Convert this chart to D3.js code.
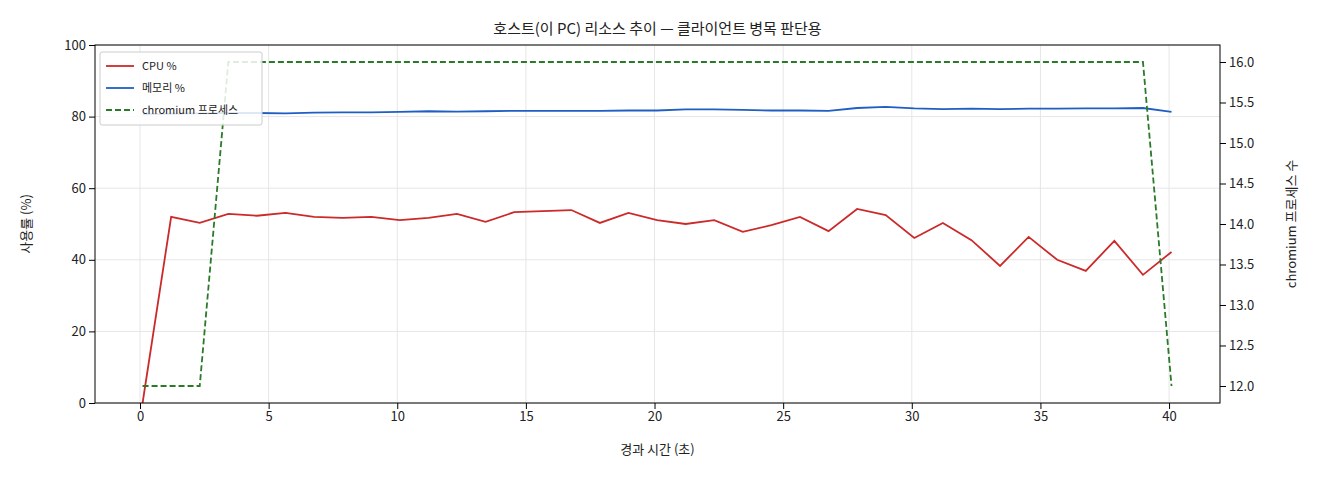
<!DOCTYPE html><html><head><meta charset="utf-8"><script src="https://cdn.jsdelivr.net/npm/d3@7"></script>
<style>body{margin:0;background:#fff}text{font-family:"Noto Sans CJK KR","Noto Sans",sans-serif;fill:#222}</style></head><body><svg id="c" width="1320" height="480"></svg><script>
const cpu=[0,52,50.3,52.8,52.3,53.1,52,51.7,52,51.1,51.7,52.8,50.6,53.3,53.6,53.9,50.3,53.1,51.1,50,51.1,47.8,49.7,52,48,54.2,52.5,46.1,50.3,45.5,38.3,46.4,40,36.9,45.3,35.8,42.2];
const mem=[80.6,80.8,80.9,81,81,80.9,81.1,81.2,81.2,81.3,81.5,81.4,81.5,81.6,81.6,81.6,81.6,81.7,81.7,82,82,81.9,81.7,81.7,81.6,82.4,82.7,82.3,82.1,82.2,82.1,82.2,82.2,82.3,82.3,82.4,81.3];
const proc=[12,12,12,16,16,16,16,16,16,16,16,16,16,16,16,16,16,16,16,16,16,16,16,16,16,16,16,16,16,16,16,16,16,16,16,16,12];
const times=cpu.map((d,i)=>0.1+i*1.111);
const xTicks=[0,5,10,15,20,25,30,35,40],yTicks=[0,20,40,60,80,100],y2Ticks=[12,12.5,13,13.5,14,14.5,15,15.5,16];
const L=95,R=1220,T=45,B=403;
const svg=d3.select("#c");
const x=d3.scaleLinear().domain([-1.749,41.98]).range([L,R]);
const y=d3.scaleLinear().domain([0,100]).range([B,T]);
const y2=d3.scaleLinear().domain([11.79,16.21]).range([B,T]);
const g=svg.append("g");
g.selectAll(".gx").data(xTicks).join("line").attr("x1",d=>x(d)).attr("x2",d=>x(d)).attr("y1",T).attr("y2",B).attr("stroke","#e6e6e6");
g.selectAll(".gy").data(yTicks).join("line").attr("y1",d=>y(d)).attr("y2",d=>y(d)).attr("x1",L).attr("x2",R).attr("stroke","#e6e6e6");
const line=(arr,sc)=>d3.line().x((d,i)=>x(times[i])).y(d=>sc(d))(arr);
svg.append("path").attr("d",line(cpu,y)).attr("fill","none").attr("stroke-width",1.8).attr("stroke","#cc2a2a");
svg.append("path").attr("d",line(mem,y)).attr("fill","none").attr("stroke","#1f5fc4").attr("stroke-width",1.8);
svg.append("path").attr("d",line(proc,y2)).attr("fill","none").attr("stroke","#2a7a2a").attr("stroke-width",1.8).attr("stroke-dasharray","6,3");
svg.append("rect").attr("x",L).attr("y",T).attr("width",R-L).attr("height",B-T).attr("fill","none").attr("stroke","#000");
const fs="13px";
svg.append("g").attr("transform",`translate(0,${B})`).call(d3.axisBottom(x).tickValues(xTicks).tickSizeOuter(0)).call(a=>{a.select(".domain").remove();a.selectAll("text").style("font-size",fs).attr("fill","#222")});
svg.append("g").attr("transform",`translate(${L},0)`).call(d3.axisLeft(y).tickValues(yTicks).tickSizeOuter(0)).call(a=>{a.select(".domain").remove();a.selectAll("text").style("font-size",fs)});
svg.append("g").attr("transform",`translate(${R},0)`).call(d3.axisRight(y2).tickValues(y2Ticks).tickFormat(d3.format(".1f")).tickSizeOuter(0)).call(a=>{a.select(".domain").remove();a.selectAll("text").style("font-size",fs)});
svg.append("text").attr("x",(L+R)/2).attr("y",34).attr("text-anchor","middle").style("font-size","15px").text("호스트(이 PC) 리소스 추이 — 클라이언트 병목 판단용");
svg.append("text").attr("x",(L+R)/2).attr("y",454).attr("text-anchor","middle").style("font-size","13px").text("경과 시간 (초)");
svg.append("text").attr("transform",`translate(31,${(T+B)/2}) rotate(-90)`).attr("text-anchor","middle").style("font-size","13px").text("사용률 (%)");
svg.append("text").attr("transform",`translate(1296,${(T+B)/2}) rotate(-90)`).attr("text-anchor","middle").style("font-size","13px").text("chromium 프로세스 수");
const lg=svg.append("g").attr("transform","translate(100,52)");
lg.append("rect").attr("width",162).attr("height",73).attr("fill","#fff").attr("fill-opacity",0.85).attr("stroke","#ccc").attr("rx",2);
const items=[["CPU %","#cc2a2a",null],["메모리 %","#1f5fc4",null],["chromium 프로세스","#2a7a2a","6,3"]];
items.forEach((it,i)=>{const yy=14+i*22;lg.append("line").attr("x1",6).attr("x2",34).attr("y1",yy).attr("y2",yy).attr("stroke",it[1]).attr("stroke-width",1.8).attr("stroke-dasharray",it[2]);
lg.append("text").attr("x",42).attr("y",yy+4).style("font-size","11px").text(it[0]);});
</script></body></html>
